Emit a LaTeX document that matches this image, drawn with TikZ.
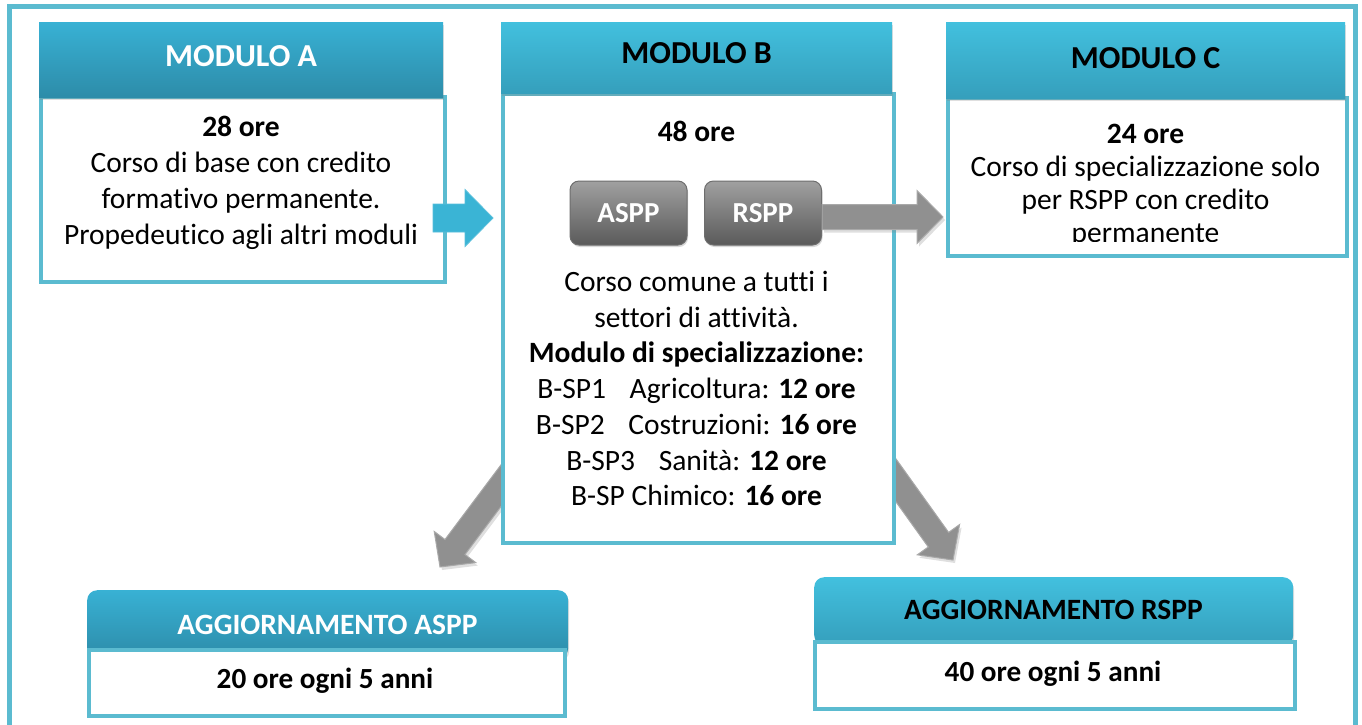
\documentclass[tikz,border=0pt]{standalone}
\usepackage{fontspec}
\setmainfont[Ligatures={NoCommon,NoContextual}]{Carlito}
\usetikzlibrary{calc,shadows}
\definecolor{frameblue}{HTML}{5BBBD0}
\definecolor{darktop}{HTML}{38B1D4}
\definecolor{darkbot}{HTML}{2D8CA9}
\definecolor{lighttop}{HTML}{42C0DE}
\definecolor{lightbot}{HTML}{359FBC}
\definecolor{btntop}{HTML}{A0A0A0}
\definecolor{btnbot}{HTML}{5A5A5A}
\definecolor{btnedge}{HTML}{6E6E6E}
\definecolor{arrgray}{HTML}{909090}
\definecolor{arredge}{HTML}{A9A9A9}
\definecolor{arrblue}{HTML}{3AB4D5}
\newcommand\fatarrow[6]{%
  \coordinate (#1#2c) at ($(#2)!#6!(#1)$);
  \path[#3] ($(#1)!#4!90:(#2)$) -- ($(#1#2c)!#4!90:(#2)$) -- ($(#1#2c)!#5!90:(#2)$)
    -- (#2) -- ($(#1#2c)!#5!-90:(#2)$) -- ($(#1#2c)!#4!-90:(#2)$) -- ($(#1)!#4!-90:(#2)$) -- cycle;}
\newcommand\tabgap{\hspace{0.8em}}
\begin{document}
\begin{tikzpicture}[x=1pt,y=-1pt,
  hdr/.style={anchor=north west, inner sep=0pt, draw=none,
    font=\fontsize{32}{38}\selectfont\bfseries,
    drop shadow={opacity=0.25,shadow xshift=1pt,shadow yshift=-3pt}},
  hdrdark/.style={top color=darktop, bottom color=darkbot, text=white},
  hdrlight/.style={top color=lighttop, bottom color=lightbot, text=black},
  bodybox/.style={anchor=north west, inner sep=0pt, draw=frameblue, line width=4pt, fill=white},
  txt/.style={align=center, inner sep=0pt, font=\fontsize{29.5}{36}\selectfont},
  btn/.style={rounded corners=9pt, top color=btntop, bottom color=btnbot, draw=btnedge,
    line width=1pt, text=white, minimum width=117pt, minimum height=64pt, inner sep=0pt,
    font=\fontsize{29}{34}\selectfont\bfseries,
    drop shadow={opacity=0.3,shadow xshift=1pt,shadow yshift=-2pt}},
  grayarrow/.style={fill=arrgray, draw=arredge, line width=1pt,
    drop shadow={opacity=0.25,shadow xshift=2pt,shadow yshift=-3pt}},
  bluearrow/.style={fill=arrblue, draw=arrblue!85!white, line width=0.8pt},
  updhdr/.style={anchor=north west, inner sep=0pt, rounded corners=10pt,
    drop shadow={opacity=0.25,shadow xshift=1pt,shadow yshift=-3pt}},
  updhdrtxt/.style={inner sep=0pt, font=\fontsize{29.5}{34}\selectfont\bfseries},
  updtxt/.style={inner sep=0pt, font=\fontsize{29.2}{34}\selectfont\bfseries}
]
\clip (0,0) rectangle (1362,724);
\fill[white] (0,0) rectangle (1362,724);
% outer frame
\draw[frameblue, line width=5pt] (9.5,6) rectangle (1355.5,800);

% ---------- MODULO A
\node[bodybox, minimum width=404pt, minimum height=185pt] (bA) at (39,95) {};
\node[hdr, hdrdark, text depth=8pt, minimum width=404pt, minimum height=75pt] (hA) at (39,22) {MODULO A};
\node[txt, anchor=north] (tA) at (241,116) {\textbf{28 ore}\\Corso di base con credito\\formativo permanente.\\Propedeutico agli altri moduli};

% ---------- MODULO B (down arrows go behind it)
\coordinate (l0) at (560,407);
\coordinate (l1) at (440,567);
\coordinate (rr0) at (837,398);
\coordinate (rr1) at (953,560);
\fatarrow{l0}{l1}{grayarrow}{12.5pt}{26pt}{25pt}
\fatarrow{rr0}{rr1}{grayarrow}{12.5pt}{26pt}{25pt}
\node[bodybox, minimum width=391pt, minimum height=449pt] (bB) at (501,92) {};
\node[hdr, hdrlight, text depth=10pt, minimum width=391pt, minimum height=71pt] (hB) at (501,22) {MODULO B};
\node[txt, anchor=north] (tB1) at (696.5,121) {\textbf{48 ore}};
\node[btn] (ASPP) at (628.5,213) {ASPP};
\node[btn] (RSPP) at (763,213) {RSPP};
\node[txt, anchor=north, font=\fontsize{29.5}{35.7}\selectfont] (tB2) at (696.5,271)
  {Corso comune a tutti i\\settori di attività.\\\textbf{Modulo di specializzazione:}\\B-SP1\tabgap Agricoltura: \textbf{12 ore}\\B-SP2\tabgap Costruzioni: \textbf{16 ore}\\B-SP3\tabgap Sanità: \textbf{12 ore}\\B-SP Chimico: \textbf{16 ore}};

% ---------- MODULO C
\node[bodybox, minimum width=399pt, minimum height=158pt] (bC) at (946,96) {};
\node[hdr, hdrlight, text depth=5pt, minimum width=399pt, minimum height=76pt] (hC) at (946,22) {MODULO C};
\begin{scope}
  \clip (946,98) rectangle (1345,241);
  \node[txt, anchor=north, font=\fontsize{29.5}{33}\selectfont] (tC) at (1145.5,124)
    {\textbf{24 ore}\\Corso di specializzazione solo\\per RSPP con credito\\permanente};
\end{scope}

% ---------- horizontal arrows
\coordinate (a0) at (433,218);
\coordinate (a1) at (493,218);
\fatarrow{a0}{a1}{bluearrow}{14pt}{28.5pt}{28pt}
\coordinate (r0) at ([yshift=-4pt]RSPP.east);
\coordinate (r1) at (943,217);
\fatarrow{r0}{r1}{grayarrow}{12.5pt}{26.5pt}{26pt}

% ---------- AGGIORNAMENTO ASPP
\node[updhdr, hdrdark, minimum width=481pt, minimum height=68pt] (hUA) at (87,590) {};
\node[updhdrtxt, text=white] (tUA) at (327.5,625) {AGGIORNAMENTO ASPP};
\node[bodybox, minimum width=476pt, minimum height=66pt] (bUA) at (87,648) {};
\node[updtxt] (tUA2) at (325,681) {20 ore ogni 5 anni};

% ---------- AGGIORNAMENTO RSPP
\node[updhdr, hdrlight, minimum width=479pt, minimum height=68pt] (hUR) at (814,577) {};
\node[updhdrtxt, text=black] (tUR) at (1053.5,610) {AGGIORNAMENTO RSPP};
\node[bodybox, minimum width=480pt, minimum height=67pt] (bUR) at (813,640) {};
\node[updtxt] (tUR2) at (1053,674) {40 ore ogni 5 anni};
\end{tikzpicture}
\end{document}
